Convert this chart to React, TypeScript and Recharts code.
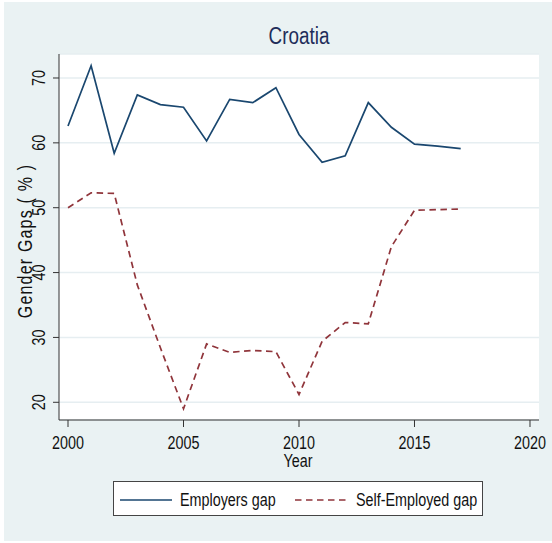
import React from "react";
import { LineChart, Line, XAxis, YAxis, CartesianGrid, Legend } from "recharts";

const years = [2000, 2001, 2002, 2003, 2004, 2005, 2006, 2007, 2008, 2009, 2010, 2011, 2012, 2013, 2014, 2015, 2016, 2017];
const employersGap = [62.6, 71.9, 58.4, 67.4, 65.9, 65.5, 60.3, 66.7, 66.2, 68.5, 61.3, 57.0, 58.0, 66.2, 62.4, 59.8, 59.5, 59.1];
const selfEmployedGap = [50.0, 52.3, 52.2, 38.1, 28.4, 19.0, 29.0, 27.7, 28.0, 27.8, 21.2, 29.4, 32.3, 32.1, 44.0, 49.6, 49.7, 49.8];
const xTicks = [2000, 2005, 2010, 2015, 2020];
const yTicks = [20, 30, 40, 50, 60, 70];

const data = years.map((year, i) => ({
  year,
  employers: employersGap[i],
  selfEmployed: selfEmployedGap[i],
}));

// no narrow font installed, so squeeze Liberation Sans horizontally
const FONT = "'Liberation Sans', Arial, sans-serif";
const SQUEEZE = 0.82;
const NAVY = "#1A476F";
const MAROON = "#90353B";
const BG = "#EAF2F3";
const AXIS = "#333333";
const INK = "#111111";

type NarrowProps = {
  x: number;
  y: number;
  angle?: number;
  anchor?: "start" | "middle" | "end";
  size?: number;
  fill?: string;
  spacing?: number;
  children: React.ReactNode;
};

const NarrowText = ({ x, y, angle = 0, anchor = "middle", size = 17.5, fill = INK, spacing = 0, children }: NarrowProps) => (
  <g transform={`translate(${x} ${y}) rotate(${angle}) scale(${SQUEEZE} 1)`}>
    <text x={0} y={0} textAnchor={anchor} fontFamily={FONT} fontSize={size} fill={fill} letterSpacing={spacing}>
      {children}
    </text>
  </g>
);

const YTick = (props: any) => (
  <NarrowText x={props.x} y={props.y} angle={-90}>
    {props.payload.value}
  </NarrowText>
);

const XTick = (props: any) => (
  <NarrowText x={props.x} y={props.y + 22}>
    {props.payload.value}
  </NarrowText>
);

const LegendBox = () => (
  <div
    style={{
      width: 368,
      height: 33,
      border: "1px solid #444",
      background: "#fff",
      position: "relative",
    }}
  >
    <svg width={368} height={33} style={{ position: "absolute", left: 0, top: 0 }}>
      <line x1={6} x2={58} y1={18} y2={18} stroke={NAVY} strokeWidth={1.6} />
      <line x1={181} x2={234} y1={18} y2={18} stroke={MAROON} strokeWidth={1.6} strokeDasharray="6.5 4.5" />
      <NarrowText x={66} y={24} anchor="start">Employers gap</NarrowText>
      <NarrowText x={242} y={24} anchor="start">Self-Employed gap</NarrowText>
    </svg>
  </div>
);

export default function App() {
  return (
    <div style={{ position: "absolute", left: 0, top: 0, width: 552, height: 543, background: "#fff" }}>
      <div style={{ position: "absolute", left: 4, top: 2, width: 548, height: 539, background: BG }} />
      <svg width={552} height={60} style={{ position: "absolute", left: 0, top: 0 }}>
        <NarrowText x={299} y={44} size={23} fill="#1E2D5A">
          Croatia
        </NarrowText>
      </svg>
      <div style={{ position: "absolute", left: 0, top: 0 }}>
        <LineChart width={552} height={543} data={data} margin={{ top: 54, right: 13, bottom: 0, left: 0 }}>
          <CartesianGrid vertical={false} horizontal={true} fill="#ffffff" stroke="#E6EEF1" strokeWidth={1.5} />
          <XAxis
            dataKey="year"
            type="number"
            domain={[1999.61, 2020.39]}
            ticks={xTicks}
            allowDataOverflow
            height={88}
            tickSize={7}
            tickMargin={0}
            tick={<XTick />}
            stroke={AXIS}
            tickLine={{ stroke: AXIS }}
            label={{
              content: () => (
                <NarrowText x={298} y={467}>
                  Year
                </NarrowText>
              ),
            }}
          />
          <YAxis
            type="number"
            domain={[17.27, 73.7]}
            ticks={yTicks}
            allowDataOverflow
            width={59}
            tickSize={6}
            tickMargin={8}
            tick={<YTick />}
            stroke={AXIS}
            tickLine={{ stroke: AXIS }}
            label={{
              content: () => (
                <NarrowText x={32} y={241} angle={-90} size={19.5} spacing={1.45}>
                  Gender Gaps ( % )
                </NarrowText>
              ),
            }}
          />
          <Legend
            content={<LegendBox />}
            wrapperStyle={{ position: "absolute", left: 113, top: 481, width: 370, height: 35 }}
          />
          <Line
            type="linear"
            dataKey="employers"
            name="Employers gap"
            stroke={NAVY}
            strokeWidth={1.7}
            dot={false}
            isAnimationActive={false}
          />
          <Line
            type="linear"
            dataKey="selfEmployed"
            name="Self-Employed gap"
            stroke={MAROON}
            strokeWidth={1.7}
            strokeDasharray="6.5 4.5"
            dot={false}
            isAnimationActive={false}
          />
        </LineChart>
      </div>
    </div>
  );
}
